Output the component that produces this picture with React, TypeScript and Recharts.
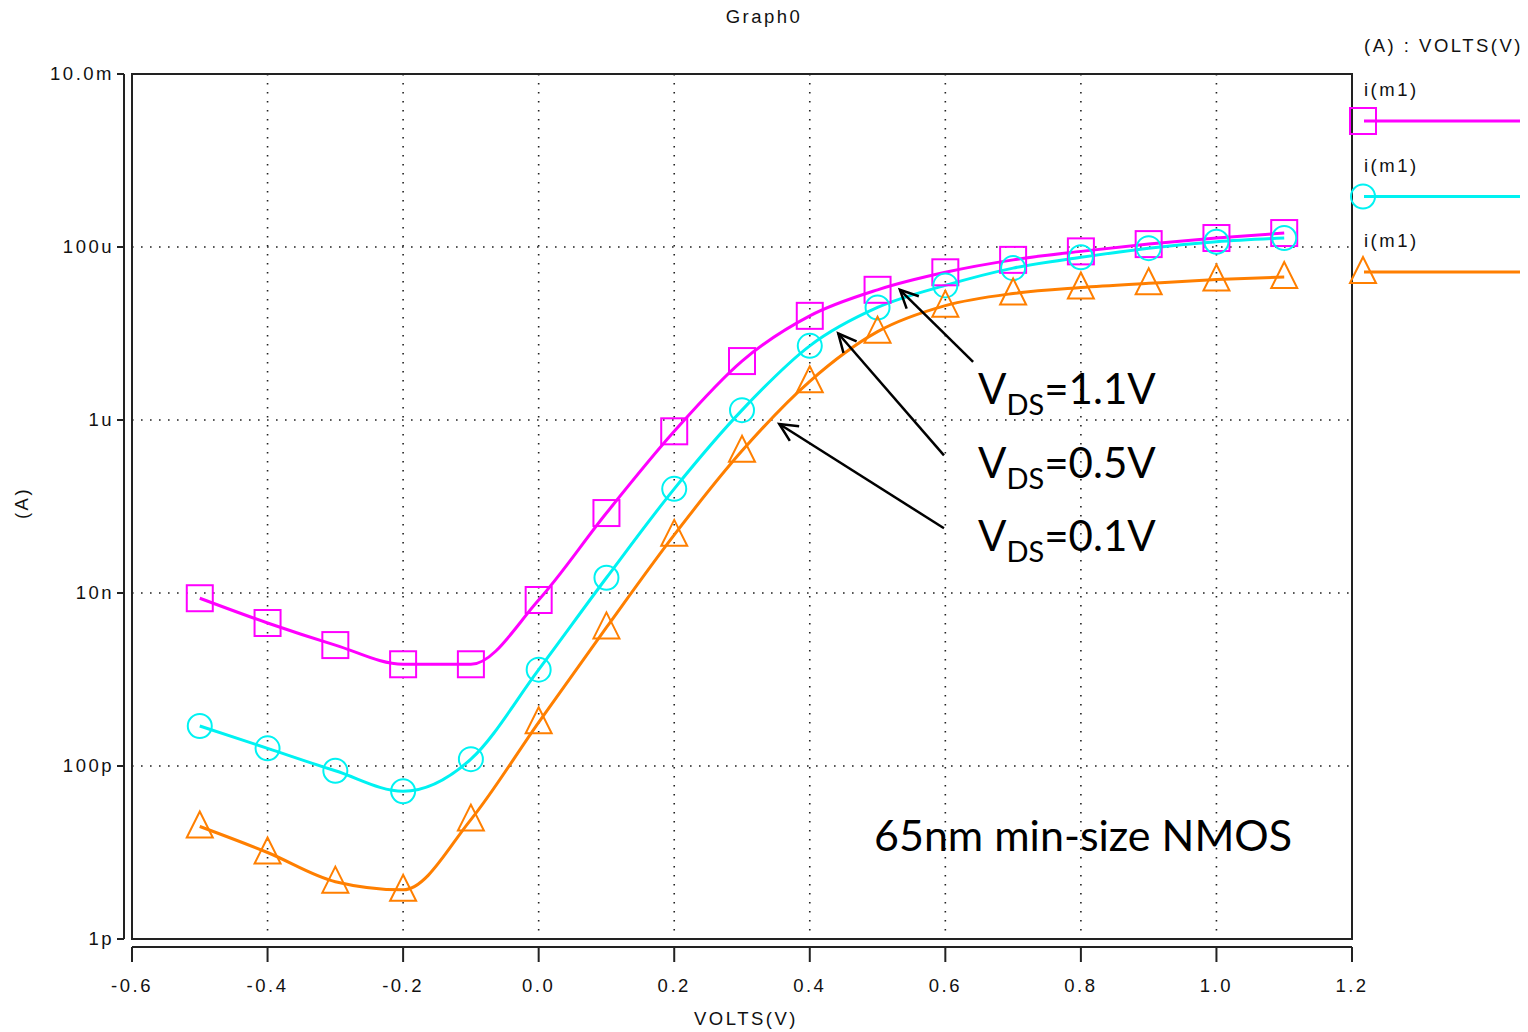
import React from 'react';
import { ComposedChart, Line, XAxis, YAxis, CartesianGrid, ReferenceArea, ReferenceLine } from 'recharts';

// gate voltage sweep (V)
const VGS = [-0.5, -0.4, -0.3, -0.2, -0.1, 0.0, 0.1, 0.2, 0.3, 0.4, 0.5, 0.6, 0.7, 0.8, 0.9, 1.0, 1.1];

// drain current (A) for each VDS
const ID_VDS_11 = [8.7e-9, 4.5e-9, 2.5e-9, 1.5e-9, 1.5e-9, 8.3e-9, 8.4e-8, 7.4e-7, 4.8e-6, 1.6e-5, 3.2e-5, 5.1e-5, 7.1e-5, 8.9e-5, 1.08e-4, 1.27e-4, 1.45e-4];
const ID_VDS_05 = [2.9e-10, 1.6e-10, 8.8e-11, 5.1e-11, 1.2e-10, 1.3e-9, 1.5e-8, 1.6e-7, 1.3e-6, 7.2e-6, 2.0e-5, 3.6e-5, 5.7e-5, 7.6e-5, 9.7e-5, 1.15e-4, 1.27e-4];
const ID_VDS_01 = [2.0e-11, 1.0e-11, 4.6e-12, 3.7e-12, 2.4e-11, 3.2e-10, 4.0e-9, 4.7e-8, 4.4e-7, 2.8e-6, 1.05e-5, 2.1e-5, 2.9e-5, 3.4e-5, 3.8e-5, 4.2e-5, 4.5e-5];

const X_TICKS = [-0.6, -0.4, -0.2, 0.0, 0.2, 0.4, 0.6, 0.8, 1.0, 1.2];
const Y_TICKS = [1e-12, 1e-10, 1e-8, 1e-6, 1e-4, 1e-2];
const Y_TICK_LABELS = ['1p', '100p', '10n', '1u', '100u', '10.0m'];

const SERIES = [
  { key: 'vds11', name: 'i(m1)', label: '1.1V', color: '#ff00ff', marker: 'square', values: ID_VDS_11 },
  { key: 'vds05', name: 'i(m1)', label: '0.5V', color: '#00f2f2', marker: 'circle', values: ID_VDS_05 },
  { key: 'vds01', name: 'i(m1)', label: '0.1V', color: '#ff7f00', marker: 'triangle', values: ID_VDS_01 },
];

// annotation arrows, tail -> tip, in data units (V, A)
const ARROWS = [
  { from: { x: 0.641, y: 4.7e-6 }, to: { x: 0.533, y: 3.2e-5 } },
  { from: { x: 0.598, y: 3.9e-7 }, to: { x: 0.442, y: 1.0e-5 } },
  { from: { x: 0.598, y: 5.6e-8 }, to: { x: 0.355, y: 9.0e-7 } },
];

const data = VGS.map((v, i) => {
  const row: Record<string, number> = { vgs: v };
  SERIES.forEach(s => { row[s.key] = s.values[i]; });
  return row;
});

const W = 1528;
const H = 1032;
const PLOT_LEFT = 132;
const PLOT_TOP = 74;
const PLOT_RIGHT = 1352;
const PLOT_BOTTOM = 939;
const PLOT_W = PLOT_RIGHT - PLOT_LEFT;
const PLOT_H = PLOT_BOTTOM - PLOT_TOP;

const UI_FONT = '"Liberation Sans", Arial, sans-serif';
const NOTE_FONT = 'Lato, "Open Sans", sans-serif';
const uiText = { fontFamily: UI_FONT, fontSize: 18.5, letterSpacing: 2.5, fill: '#111' };

const Marker = ({ shape, cx, cy, color }: { shape: string; cx: number; cy: number; color: string }) => {
  if (shape === 'square') {
    return <rect x={cx - 13} y={cy - 13} width={26} height={26} fill="none" stroke={color} strokeWidth={2} />;
  }
  if (shape === 'circle') {
    return <circle cx={cx} cy={cy} r={12} fill="none" stroke={color} strokeWidth={2} />;
  }
  return (
    <polygon
      points={`${cx},${cy - 15} ${cx - 13},${cy + 11} ${cx + 13},${cy + 11}`}
      fill="none"
      stroke={color}
      strokeWidth={2}
    />
  );
};

const XTick = (props: any) => {
  const { x, y, payload, index } = props;
  return (
    <g>
      {index === 0 && <line x1={x} x2={x + PLOT_W} y1={y + 8} y2={y + 8} stroke="#222" strokeWidth={2} />}
      <line x1={x} x2={x} y1={y + 8} y2={y + 23} stroke="#222" strokeWidth={2} />
      <text x={x} y={y + 53} textAnchor="middle" {...uiText}>
        {Number(payload.value).toFixed(1)}
      </text>
    </g>
  );
};

const YTick = (props: any) => {
  const { x, y, index } = props;
  return (
    <g>
      {index === 0 && <line x1={x - 8} x2={x - 8} y1={y} y2={y - PLOT_H} stroke="#222" strokeWidth={2} />}
      <line x1={x - 8} x2={x - 15} y1={y} y2={y} stroke="#222" strokeWidth={2} />
      <text x={x - 18} y={y + 6} textAnchor="end" {...uiText}>
        {Y_TICK_LABELS[index]}
      </text>
    </g>
  );
};

const Arrow = (props: any) => {
  const { x1, y1, x2, y2 } = props;
  const ang = Math.atan2(y2 - y1, x2 - x1);
  const len = 20;
  const spread = 0.45;
  const a1 = ang + Math.PI - spread;
  const a2 = ang + Math.PI + spread;
  return (
    <g>
      <line x1={x1} y1={y1} x2={x2} y2={y2} stroke="#000" strokeWidth={2.5} />
      <polyline
        points={`${x2 + len * Math.cos(a1)},${y2 + len * Math.sin(a1)} ${x2},${y2} ${x2 + len * Math.cos(a2)},${y2 + len * Math.sin(a2)}`}
        fill="none"
        stroke="#000"
        strokeWidth={2.5}
      />
    </g>
  );
};

const VdsLabel = ({ x, y, value }: { x: number; y: number; value: string }) => (
  <text x={x} y={y} fontFamily={NOTE_FONT} fontSize={42} fill="#000">
    V
    <tspan fontSize={29} dy={11}>DS</tspan>
    <tspan dy={-11}>={value}</tspan>
  </text>
);

export default function App() {
  return (
    <div style={{ position: 'absolute', left: 0, top: 0, width: W, height: H, background: '#fff' }}>
      <ComposedChart
        width={W}
        height={H}
        data={data}
        margin={{ top: PLOT_TOP, right: W - PLOT_RIGHT, bottom: 0, left: 0 }}
      >
        <CartesianGrid stroke="#222" strokeWidth={1.6} strokeDasharray="1.6 7.4" />
        <XAxis
          type="number"
          dataKey="vgs"
          domain={[-0.6, 1.2]}
          ticks={X_TICKS}
          interval={0}
          allowDataOverflow
          height={H - PLOT_BOTTOM}
          tickSize={0}
          tickMargin={0}
          axisLine={false}
          tickLine={false}
          tick={<XTick />}
        />
        <YAxis
          type="number"
          scale="log"
          domain={[1e-12, 1e-2]}
          ticks={Y_TICKS}
          interval={0}
          allowDataOverflow
          width={PLOT_LEFT}
          tickSize={0}
          tickMargin={0}
          axisLine={false}
          tickLine={false}
          tick={<YTick />}
        />
        <ReferenceArea x1={-0.6} x2={1.2} y1={1e-12} y2={1e-2} fill="none" stroke="#222" strokeWidth={2} />
        {SERIES.map(s => (
          <Line
            key={s.key}
            dataKey={s.key}
            name={s.name}
            type="monotone"
            stroke={s.color}
            strokeWidth={3}
            isAnimationActive={false}
            activeDot={false}
            dot={(p: any) => <Marker key={`${s.key}-${p.index}`} shape={s.marker} cx={p.cx} cy={p.cy} color={s.color} />}
          />
        ))}
        {ARROWS.map((a, i) => (
          <ReferenceLine key={`arrow-${i}`} segment={[a.from, a.to]} shape={<Arrow />} />
        ))}
      </ComposedChart>

      <svg width={W} height={H} style={{ position: 'absolute', left: 0, top: 0, pointerEvents: 'none' }}>
        <text x={764} y={23} textAnchor="middle" {...uiText}>Graph0</text>
        <text x={746} y={1025} textAnchor="middle" {...uiText}>VOLTS(V)</text>
        <text x={0} y={0} textAnchor="middle" transform="translate(28,503) rotate(-90)" {...uiText}>(A)</text>
        <text x={1364} y={52} {...uiText}>(A) : VOLTS(V)</text>

        {SERIES.map((s, i) => {
          const ly = 121 + i * 75.5;
          return (
            <g key={`leg-${s.key}`}>
              <text x={1364} y={ly - 25} {...uiText}>{s.name}</text>
              <line x1={1364} x2={1520} y1={ly} y2={ly} stroke={s.color} strokeWidth={3} />
              <Marker shape={s.marker} cx={1363} cy={ly} color={s.color} />
            </g>
          );
        })}

        <VdsLabel x={978} y={404} value={SERIES[0].label} />
        <VdsLabel x={978} y={478} value={SERIES[1].label} />
        <VdsLabel x={978} y={551} value={SERIES[2].label} />
        <text x={874} y={851} fontFamily={NOTE_FONT} fontSize={43} fill="#000">65nm min-size NMOS</text>
      </svg>
    </div>
  );
}
